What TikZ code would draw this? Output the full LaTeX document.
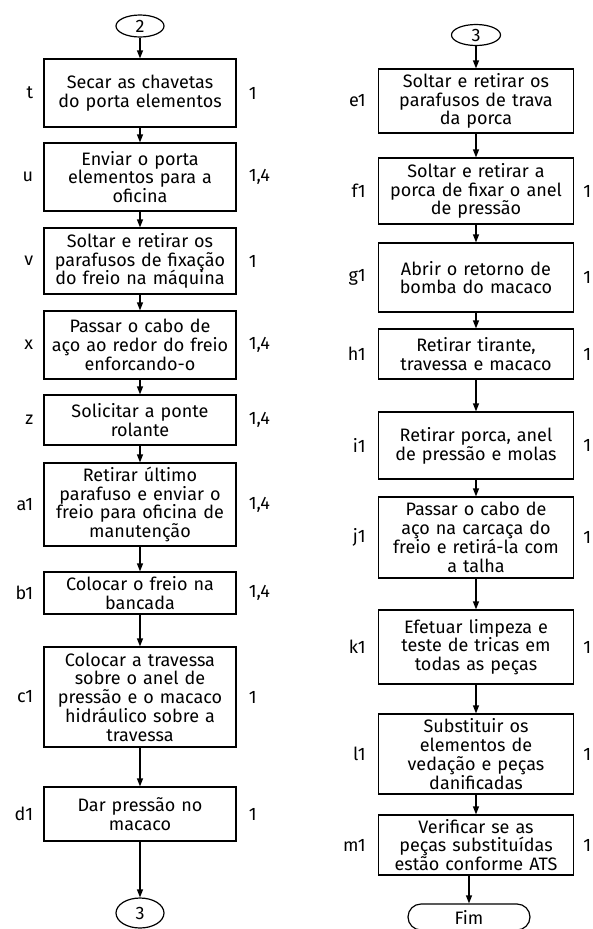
\documentclass[tikz,border=0pt]{standalone}
\usepackage{fontspec}
\setmainfont{Fira Sans}
\usetikzlibrary{arrows.meta, shapes.geometric, positioning}

\begin{document}
\begin{tikzpicture}[x=1pt, y=-1pt,
  every node/.style={font=\fontsize{18}{18.8}\selectfont},
  stepbox/.style={draw, line width=1.2pt, minimum width=192pt, text width=190pt,
    align=center, inner sep=0pt},
  conn/.style={draw, line width=1.2pt, ellipse, minimum width=48pt,
    minimum height=22pt, inner sep=0pt},
  lbl/.style={inner sep=0pt},
  flow/.style={line width=1.2pt, -{Triangle[length=8pt, width=6pt]}}]

  \useasboundingbox (0,0) rectangle (593,929);

  % Left column
  \node[conn] (c2) at (140,26) {2};
  \node[stepbox, minimum height=68pt] (t) at (140,93) {Secar as chavetas\\do porta elementos};
  \node[stepbox, minimum height=68pt] (u) at (140,177) {Enviar o porta\\elementos para a\\oficina};
  \node[stepbox, minimum height=66pt] (v) at (140,261) {Soltar e retirar os\\parafusos de fixação\\do freio na máquina};
  \node[stepbox, minimum height=68pt] (x) at (140,345) {Passar o cabo de\\aço ao redor do freio\\enforcando-o};
  \node[stepbox, minimum height=50pt] (z) at (140,420) {Solicitar a ponte\\rolante};
  \node[stepbox, minimum height=83pt] (a1) at (140,504.5) {Retirar último\\parafuso e enviar o\\freio para oficina de\\manutenção};
  \node[stepbox, minimum height=42pt] (b1) at (140,593) {Colocar o freio na\\bancada};
  \node[stepbox, minimum height=100pt] (c1) at (140,697) {Colocar a travessa\\sobre o anel de\\pressão e o macaco\\hidráulico sobre a\\travessa};
  \node[stepbox, minimum height=54pt] (d1) at (140,814) {Dar pressão no\\macaco};
  \node[conn, minimum height=30pt] (c3a) at (140,913) {3};

  % Left column: letters and numbers
  \foreach \s/\n in {t/1, u/{1,4}, v/1, x/{1,4}, z/{1,4}, a1/{1,4}, b1/{1,4}, c1/1, d1/1} {
    \node[lbl, anchor=east, left=10pt of \s] {\s};
    \node[lbl, anchor=west, right=12pt of \s] {\n};
  }

  % Left column: arrows
  \draw[flow] (c2) -- (t);
  \draw[flow] (t) -- (u);
  \draw[flow] (u) -- (v);
  \draw[flow] (v) -- (x);
  \draw[flow] (x) -- (z);
  \draw[flow] (z) -- (a1);
  \draw[flow] (a1) -- (b1);
  \draw[flow] (b1) -- (c1);
  \draw[flow] (c1) -- (d1);
  \draw[flow] (d1) -- (c3a);

  % Right column
  \node[conn, minimum width=49pt, minimum height=21pt] (c3b) at (476,35) {3};
  \node[stepbox, minimum width=195pt, minimum height=64pt] (e1) at (476,101) {Soltar e retirar os\\parafusos de trava\\da porca};
  \node[stepbox, minimum width=195pt, minimum height=66pt] (f1) at (476,191) {Soltar e retirar a\\porca de fixar o anel\\de pressão};
  \node[stepbox, minimum width=195pt, minimum height=69pt] (g1) at (476,277.5) {Abrir o retorno de\\bomba do macaco};
  \node[stepbox, minimum width=195pt, minimum height=50pt] (h1) at (476,354) {Retirar tirante,\\travessa e macaco};
  \node[stepbox, minimum width=195pt, minimum height=67pt] (i1) at (476,445.5) {Retirar porca, anel\\de pressão e molas};
  \node[stepbox, minimum width=195pt, minimum height=81pt] (j1) at (476,537.5) {Passar o cabo de\\aço na carcaça do\\freio e retirá-la com\\a talha};
  \node[stepbox, minimum width=195pt, minimum height=74pt] (k1) at (476,647) {Efetuar limpeza e\\teste de tricas em\\todas as peças};
  \node[stepbox, minimum width=195pt, minimum height=80pt] (l1) at (476,754) {Substituir os\\elementos de\\vedação e peças\\danificadas};
  \node[stepbox, minimum width=195pt, minimum height=60pt] (m1) at (476,845) {Verificar se as\\peças substituídas\\estão conforme ATS};
  \node[draw, line width=1.2pt, rounded corners=13pt, minimum width=122pt,
    minimum height=26pt, inner sep=0pt] (fim) at (469,917) {Fim};

  % Right column: letters and numbers
  \node[lbl, anchor=east, left=12pt of e1] {e1};
  \foreach \s in {f1, g1, h1, i1, j1, k1, l1, m1} {
    \node[lbl, anchor=east, left=12pt of \s] {\s};
    \node[lbl, anchor=west, right=9pt of \s] {1};
  }

  % Right column: arrows
  \draw[flow] (c3b) -- (e1);
  \draw[flow] (e1) -- (f1);
  \draw[flow] (f1) -- (g1);
  \draw[flow] (g1) -- (h1);
  \draw[flow] (h1) -- (i1);
  \draw[flow] (i1) -- (j1);
  \draw[flow] (j1) -- (k1);
  \draw[flow] (k1) -- (l1);
  \draw[flow] (l1) -- (m1);
  \draw[flow] (m1.south -| fim) -- (fim);
\end{tikzpicture}
\end{document}
